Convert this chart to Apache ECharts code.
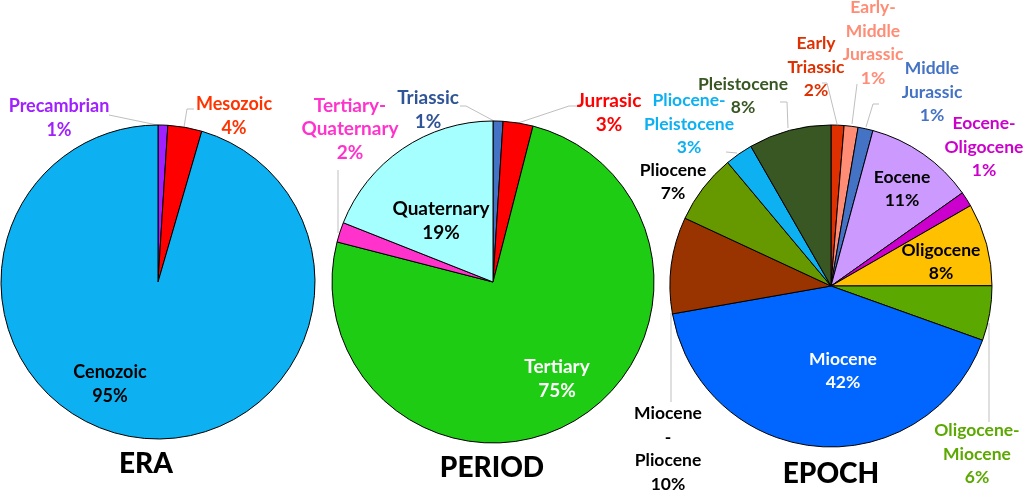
<!DOCTYPE html>
<html>
<head>
<meta charset="utf-8">
<style>html,body{margin:0;background:#fff}#chart{width:1024px;height:492px}</style>
<script src="https://cdn.jsdelivr.net/npm/echarts@6/dist/echarts.min.js"></script>
</head>
<body>
<div id="chart"></div>
<script>
var eraNames = ['Precambrian', 'Mesozoic', 'Cenozoic'];
var eraValues = [1, 3.5, 95.5];
var eraPercents = ['1%', '4%', '95%'];
var eraColors = ['#A020FF', '#FF0000', '#0DB0F0'];
var eraTextColors = ['#A020FF', '#FF3300', '#000000'];
var eraLabelPos = [[59, 118], [234, 116], [110, 384]];
var eraLines = [[[109, 115], [162, 126]], [[194, 109], [187, 109], [184, 127]], null];

var periodNames = ['Triassic', 'Jurrasic', 'Tertiary', 'Tertiary-\nQuaternary', 'Quaternary'];
var periodValues = [1, 3, 75, 2, 19];
var periodPercents = ['1%', '3%', '75%', '2%', '19%'];
var periodColors = ['#4472C4', '#FF0000', '#1ECC14', '#FF33CC', '#A6FFFF'];
var periodTextColors = ['#2F5597', '#FF0000', '#FFFFFF', '#FF33CC', '#000000'];
var periodLabelPos = [[428, 110], [609, 113], [557, 379], [350, 129], [441, 221]];
var periodLines = [[[460, 106], [466, 106], [496, 122]], [[577, 106], [569, 106], [518, 123]], null, [[338, 170], [338, 233]], null];

var epochNames = ['Early\nTriassic', 'Early-\nMiddle\nJurassic', 'Middle\nJurassic', 'Eocene', 'Eocene-\nOligocene', 'Oligocene',
  'Oligocene-\nMiocene', 'Miocene', 'Miocene\n-\nPliocene', 'Pliocene', 'Pliocene-\nPleistocene', 'Pleistocene'];
var epochValues = [1.3, 1.4, 1.5, 11, 1.5, 8.3, 5.5, 41.8, 9.7, 7, 2.8, 8.3];
var epochPercents = ['2%', '1%', '1%', '11%', '1%', '8%', '6%', '42%', '10%', '7%', '3%', '8%'];
var epochColors = ['#DE3000', '#FF8C75', '#4472C4', '#CC99FF', '#CC00CC', '#FFC000', '#5BA800', '#0066FF', '#993300', '#669900', '#0DB0F0', '#385723'];
var epochTextColors = ['#DE3000', '#FF8C75', '#4472C4', '#000000', '#CC00CC', '#000000', '#5BA800', '#FFFFFF', '#000000', '#000000', '#0DB0F0', '#385723'];
var epochLabelPos = [[816, 67], [873, 43], [932, 92], [902, 189], [984, 147], [941, 262], [977, 454], [843, 371], [668, 449], [673, 182], [689, 124], [743, 96]];
var epochLines = [[[822, 83], [827, 83], [837, 124]], [[857, 84], [852, 124]], [[879, 104], [873, 104], [866, 127]], null, null, null,
  [[989, 422], [989, 323]], null, [[671, 402], [671, 313]], null, [[726, 152], [737, 153]], [[780, 102], [787, 102], [788, 128]]];

var fontName = 'Lato';

function pieSeries(center, radius, fontSize, names, values, percents, colors, textColors, labelPos, lines) {
  return {
    type: 'pie',
    center: center,
    radius: radius,
    startAngle: 90,
    silent: true,
    animation: false,
    avoidLabelOverlap: false,
    itemStyle: { borderColor: '#000', borderWidth: 1 },
    label: { position: 'outside', fontFamily: fontName, fontWeight: 'bold', fontSize: fontSize, lineHeight: 23.5 },
    labelLine: { show: true, lineStyle: { color: '#BFBFBF', width: 1 } },
    labelLayout: function (params) {
      var i = params.dataIndex;
      return {
        x: labelPos[i][0],
        y: labelPos[i][1],
        align: 'center',
        verticalAlign: 'middle',
        labelLinePoints: lines[i] || undefined
      };
    },
    data: names.map(function (n, i) {
      return {
        name: n,
        value: values[i],
        itemStyle: { color: colors[i] },
        label: { formatter: n + '\n' + percents[i], color: textColors[i] },
        labelLine: { show: !!lines[i] }
      };
    })
  };
}

var chart = echarts.init(document.getElementById('chart'));
chart.setOption({
  backgroundColor: '#fff',
  title: [
    { text: 'ERA', left: 141, top: 445 },
    { text: 'PERIOD', left: 487, top: 449 },
    { text: 'EPOCH', left: 826, top: 455 }
  ].map(function (t) {
    t.textAlign = 'center';
    t.textStyle = { fontFamily: fontName, fontWeight: 900, fontSize: 28, color: '#000' };
    return t;
  }),
  series: [
    pieSeries([158, 282], 157, 18, eraNames, eraValues, eraPercents, eraColors, eraTextColors, eraLabelPos, eraLines),
    pieSeries([493, 282], 161, 19, periodNames, periodValues, periodPercents, periodColors, periodTextColors, periodLabelPos, periodLines),
    pieSeries([831, 286], 161, 17.5, epochNames, epochValues, epochPercents, epochColors, epochTextColors, epochLabelPos, epochLines)
  ]
});
</script>
</body>
</html>
